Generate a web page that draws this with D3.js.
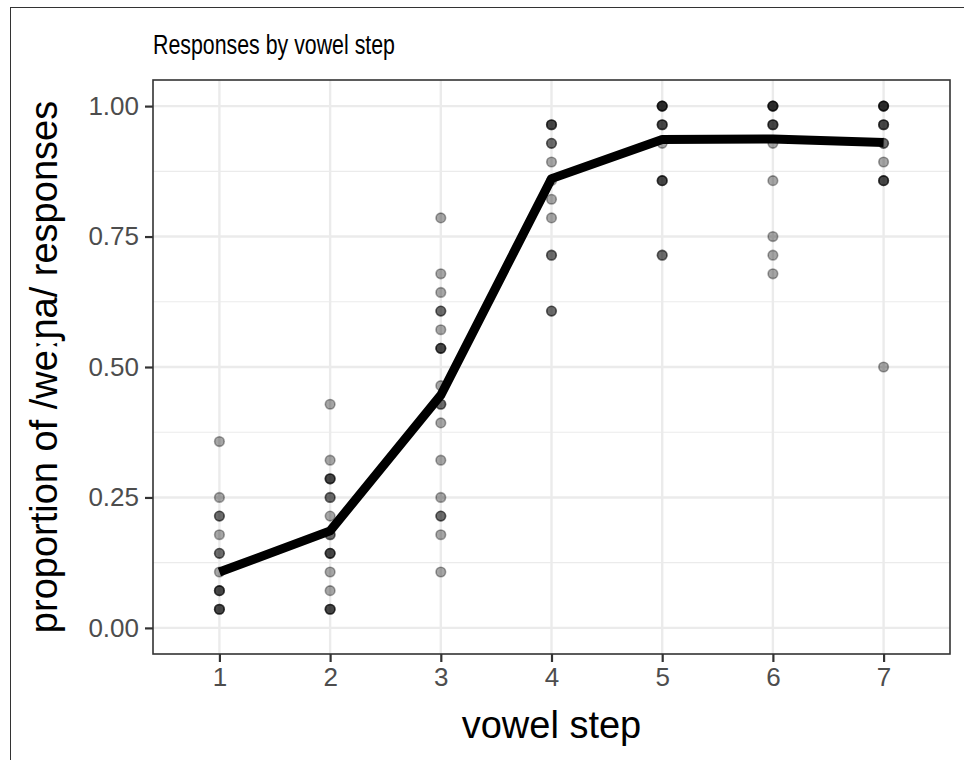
<!DOCTYPE html>
<html>
<head>
<meta charset="utf-8">
<script src="https://cdn.jsdelivr.net/npm/d3@7"></script>
<style>
  html, body { margin: 0; padding: 0; background: #fff; }
  svg { display: block; font-family: "Liberation Sans", Arial, sans-serif; }
</style>
</head>
<body>
<svg id="chart" width="964" height="760"></svg>
<script>
// ---- Data (proportions of 28 trials; repeated values are overlapping participants) ----
const steps = [1, 2, 3, 4, 5, 6, 7];
const yTicks = [0, 0.25, 0.5, 0.75, 1];
const yTickLabels = ["0.00", "0.25", "0.50", "0.75", "1.00"];
const step1 = [10, 7, 6, 6, 5, 4, 4, 3, 2, 2, 2, 1, 1, 1].map(v => v / 28);
const step2 = [12, 9, 8, 8, 8, 7, 7, 6, 5, 5, 4, 4, 4, 3, 2, 1, 1, 1].map(v => v / 28);
const step3 = [22, 19, 18, 17, 17, 16, 15, 15, 15, 13, 12, 12, 11, 9, 7, 6, 6, 5, 3].map(v => v / 28);
const step4 = [27, 27, 27, 26, 26, 25, 24, 23, 22, 20, 20, 17, 17].map(v => v / 28);
const step5 = [28, 28, 28, 28, 27, 27, 27, 26, 24, 24, 24, 20, 20].map(v => v / 28);
const step6 = [28, 28, 28, 28, 27, 27, 27, 26, 24, 21, 20, 19].map(v => v / 28);
const step7 = [28, 28, 28, 28, 27, 27, 27, 26, 26, 25, 24, 24, 24, 14].map(v => v / 28);
const meanProportion = [0.107, 0.186, 0.446, 0.861, 0.936, 0.937, 0.930];

const pointSets = [step1, step2, step3, step4, step5, step6, step7];
const points = [];
pointSets.forEach((arr, i) => arr.forEach(v => points.push({ step: steps[i], value: v })));
const lineData = steps.map((s, i) => ({ step: s, value: meanProportion[i] }));

// ---- Layout ----
const svg = d3.select("#chart");
const panel = { left: 153, right: 950, top: 80, bottom: 654 };

const x = d3.scalePoint().domain(steps).range([panel.left, panel.right]).padding(0.6);
const y = d3.scaleLinear().domain([-0.05, 1.05]).range([panel.bottom, panel.top]);

// outer frame
svg.append("rect")
  .attr("x", 10.5).attr("y", 7.5).attr("width", 1000).attr("height", 800)
  .attr("fill", "none").attr("stroke", "#333").attr("stroke-width", 1);

// panel background
svg.append("rect")
  .attr("x", panel.left).attr("y", panel.top)
  .attr("width", panel.right - panel.left).attr("height", panel.bottom - panel.top)
  .attr("fill", "#fff");

// grid
const grid = svg.append("g");
const minor = [0.125, 0.375, 0.625, 0.875];
grid.selectAll("line.minor").data(minor).join("line")
  .attr("x1", panel.left).attr("x2", panel.right)
  .attr("y1", d => y(d)).attr("y2", d => y(d))
  .attr("stroke", "#ebebeb").attr("stroke-width", 1.2);
grid.selectAll("line.majY").data(yTicks).join("line")
  .attr("x1", panel.left).attr("x2", panel.right)
  .attr("y1", d => y(d)).attr("y2", d => y(d))
  .attr("stroke", "#ebebeb").attr("stroke-width", 2.4);
grid.selectAll("line.majX").data(steps).join("line")
  .attr("y1", panel.top).attr("y2", panel.bottom)
  .attr("x1", d => x(d)).attr("x2", d => x(d))
  .attr("stroke", "#ebebeb").attr("stroke-width", 2.4);

// points
svg.append("g").selectAll("circle").data(points).join("circle")
  .attr("cx", d => x(d.step)).attr("cy", d => y(d.value))
  .attr("r", 4.8)
  .attr("fill", "rgba(0,0,0,0.35)")
  .attr("stroke", "rgba(0,0,0,0.35)")
  .attr("stroke-width", 1.6);

// mean line
svg.append("path").datum(lineData)
  .attr("d", d3.line().x(d => x(d.step)).y(d => y(d.value)))
  .attr("fill", "none").attr("stroke", "#000")
  .attr("stroke-width", 9).attr("stroke-linejoin", "round").attr("stroke-linecap", "butt");

// panel border
svg.append("rect")
  .attr("x", panel.left).attr("y", panel.top)
  .attr("width", panel.right - panel.left).attr("height", panel.bottom - panel.top)
  .attr("fill", "none").attr("stroke", "#333").attr("stroke-width", 1.6);

// axes
const xAxis = d3.axisBottom(x).tickSize(8).tickPadding(6);
const gx = svg.append("g").attr("transform", `translate(0,${panel.bottom})`).call(xAxis);
gx.select(".domain").remove();
gx.selectAll(".tick line").attr("stroke", "#333").attr("stroke-width", 2.2);
gx.selectAll(".tick text").attr("fill", "#4d4d4d").attr("font-size", 26)
  .attr("font-family", "Liberation Sans, Arial, sans-serif");

const yAxis = d3.axisLeft(y).tickValues(yTicks)
  .tickFormat((d, i) => yTickLabels[i]).tickSize(8).tickPadding(6);
const gy = svg.append("g").attr("transform", `translate(${panel.left},0)`).call(yAxis);
gy.select(".domain").remove();
gy.selectAll(".tick line").attr("stroke", "#333").attr("stroke-width", 2.2);
gy.selectAll(".tick text").attr("fill", "#4d4d4d").attr("font-size", 26)
  .attr("font-family", "Liberation Sans, Arial, sans-serif");

// titles
svg.append("text")
  .attr("x", panel.left).attr("y", 54)
  .attr("font-size", 27).attr("fill", "#000")
  .attr("textLength", 242).attr("lengthAdjust", "spacingAndGlyphs")
  .text("Responses by vowel step");

svg.append("text")
  .attr("x", (panel.left + panel.right) / 2).attr("y", 738)
  .attr("text-anchor", "middle").attr("font-size", 38).attr("fill", "#000")
  .text("vowel step");

svg.append("text")
  .attr("transform", `translate(57,${(panel.top + panel.bottom) / 2}) rotate(-90)`)
  .attr("text-anchor", "middle").attr("font-size", 38).attr("fill", "#000")
  .text("proportion of /weːɲa/ responses");
</script>
</body>
</html>
